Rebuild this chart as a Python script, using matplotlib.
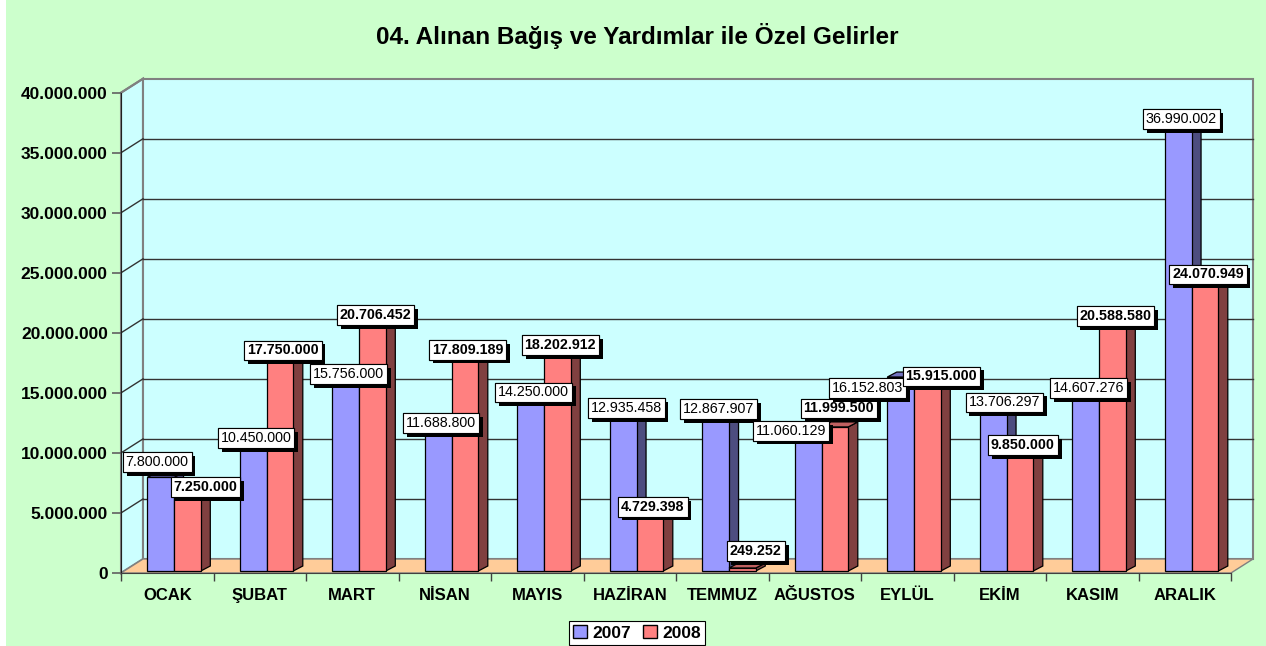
import matplotlib.pyplot as plt
from matplotlib.patches import Polygon, Rectangle, Patch
from matplotlib import patheffects

plt.rcParams['font.family'] = ['Liberation Sans', 'DejaVu Sans']

TITLE = '04. Alınan Bağış ve Yardımlar ile Özel Gelirler'
MONTHS = ['OCAK', 'ŞUBAT', 'MART', 'NİSAN', 'MAYIS', 'HAZİRAN',
          'TEMMUZ', 'AĞUSTOS', 'EYLÜL', 'EKİM', 'KASIM', 'ARALIK']
SERIES = ['2007', '2008']
Y2007 = [7800000, 10450000, 15756000, 11688800, 14250000, 12935458,
         12867907, 11060129, 16152803, 13706297, 14607276, 36990002]
Y2008 = [7250000, 17750000, 20706452, 17809189, 18202912, 4729398,
         249252, 11999500, 15915000, 9850000, 20588580, 24070949]
YTICKS = [0, 5000000, 10000000, 15000000, 20000000, 25000000,
          30000000, 35000000, 40000000]

# label nudges in pixels where labels were moved apart
NUDGE_2007 = {0: (-6.5, 7.5), 7: (-20.5, 0), 8: (-36.5, -18.5), 9: (8, -3.5)}
NUDGE_2008 = {0: (15, -10.5), 6: (10.5, 9.5), 7: (1, 11), 8: (11, -4)}

W, H = 1266, 646
AX_L, AX_R, AX_B, AX_T = 121, 1231, 73, 553.3   # pixel box of the front plane
YMAX = 40000000
PXX = (AX_R - AX_L) / 12.0
PXY = (AX_T - AX_B) / YMAX

DXW, DYW = 22 / PXX, 14 / PXY      # wall depth
DXB, DYB = 9.5 / PXX, 5 / PXY      # bar depth
BASE = 2 / PXY
BW = 26.75 / PXX
X0 = 26.3 / PXX

BLUE, BLUE_SIDE, BLUE_TOP = '#9999FF', '#4D4D80', '#7373C0'
RED, RED_SIDE, RED_TOP = '#FF8080', '#804040', '#C06060'


def fmt(v):
    return '{:,}'.format(v).replace(',', '.')


def bar3d(ax, x, value, face, side, topc):
    top = BASE + value
    ax.add_patch(Polygon([(x + BW, BASE), (x + BW + DXB, BASE + DYB),
                          (x + BW + DXB, top + DYB), (x + BW, top)],
                         facecolor=side, edgecolor='black', lw=0.9, zorder=3))
    ax.add_patch(Polygon([(x, top), (x + DXB, top + DYB),
                          (x + BW + DXB, top + DYB), (x + BW, top)],
                         facecolor=topc, edgecolor='black', lw=0.9, zorder=3))
    ax.add_patch(Rectangle((x, BASE), BW, value, facecolor=face,
                           edgecolor='black', lw=0.9, zorder=3))
    return x + BW / 2, top


def label(ax, xc, top, value, nudge, bold):
    dx, dy = nudge
    t = ax.annotate(fmt(value), (xc, top), xytext=(3 + dx, 7.5 + dy),
                    textcoords='offset pixels', ha='center', va='center',
                    fontsize=10.3, fontweight='bold' if bold else 'normal',
                    zorder=6, annotation_clip=False,
                    bbox=dict(boxstyle='square,pad=0.2', facecolor='white',
                              edgecolor='black', lw=0.8))
    t.get_bbox_patch().set_path_effects([
        patheffects.withSimplePatchShadow(offset=(2.8, -2.8),
                                          shadow_rgbFace='black', alpha=1.0),
        patheffects.Normal()])


fig = plt.figure(figsize=(W / 100, H / 100), dpi=100)
fig.patch.set_facecolor('#CCFFCC')
# thin white strip on the left edge
fig.patches.append(Rectangle((0, 0), 6 / W, 1, transform=fig.transFigure,
                             facecolor='white', edgecolor='none', zorder=-1))

ax = fig.add_axes([AX_L / W, AX_B / H, (AX_R - AX_L) / W, (AX_T - AX_B) / H])
ax.set_xlim(0, 12)
ax.set_ylim(0, YMAX)
ax.patch.set_visible(False)

# walls and floor
wall_kw = dict(facecolor='#CCFFFF', edgecolor='#808080', lw=1.5, zorder=0.5)
ax.add_patch(Polygon([(0, 0), (0, YMAX), (DXW, YMAX + DYW), (DXW, DYW)],
                     clip_on=False, **wall_kw))
ax.add_patch(Rectangle((DXW, DYW), 12, YMAX, clip_on=False, **wall_kw))
for v in YTICKS[1:-1]:
    ax.plot([DXW, 12 + DXW], [v + DYW, v + DYW], color='#333333', lw=1,
            zorder=1, clip_on=False)
    ax.plot([0, DXW], [v, v + DYW], color='#333333', lw=1, zorder=1,
            clip_on=False)
ax.plot([0, DXW], [YMAX, YMAX + DYW], color='#808080', lw=1.5, zorder=1,
        clip_on=False)
ax.add_patch(Polygon([(0, 0), (12, 0), (12 + DXW, DYW), (DXW, DYW)],
                     facecolor='#FFCC99', edgecolor='#808080', lw=1,
                     zorder=1.5, clip_on=False))

# bars
for i in range(12):
    xb, tb = bar3d(ax, i + X0, Y2007[i], BLUE, BLUE_SIDE, BLUE_TOP)
    xr, tr = bar3d(ax, i + X0 + BW, Y2008[i], RED, RED_SIDE, RED_TOP)
    label(ax, xb, tb, Y2007[i], NUDGE_2007.get(i, (0, 0)), False)
    label(ax, xr, tr, Y2008[i], NUDGE_2008.get(i, (0, 0)), True)

# axes
for s in ['top', 'right']:
    ax.spines[s].set_visible(False)
ax.spines['left'].set_color('#202020')
ax.spines['bottom'].set_color('#404040')
ax.spines['left'].set_zorder(2)
ax.spines['bottom'].set_zorder(2)

ax.set_yticks(YTICKS)
ax.set_yticklabels([fmt(v) for v in YTICKS], fontsize=12.5, fontweight='bold')
ax.tick_params(axis='y', direction='out', length=6.5, width=1.2,
               color='#606060', pad=3)

ax.set_xticks(range(13))
ax.set_xticklabels([])
ax.set_xticks([i + 0.5 for i in range(12)], minor=True)
ax.set_xticklabels(MONTHS, minor=True, fontsize=12, fontweight='bold')
ax.tick_params(axis='x', which='major', direction='out', length=6,
               width=1, color='#404040')
ax.tick_params(axis='x', which='minor', length=0, pad=11)

fig.text(637 / W, 1 - 36 / H, TITLE, ha='center', va='center',
         fontsize=17.5, fontweight='bold')

handles = [Patch(facecolor=BLUE, edgecolor='black', label=SERIES[0]),
           Patch(facecolor=RED, edgecolor='black', label=SERIES[1])]
leg = fig.legend(handles=handles, loc='center',
                 bbox_to_anchor=(637 / W, 1 - 633 / H), ncol=2,
                 prop={'size': 12.5, 'weight': 'bold'}, fancybox=False,
                 edgecolor='black', framealpha=1, handlelength=0.8,
                 handleheight=0.8, handletextpad=0.3, columnspacing=0.7,
                 borderpad=0.25, borderaxespad=0)
leg.get_frame().set_linewidth(0.8)

fig.savefig('out.png', dpi=100)
